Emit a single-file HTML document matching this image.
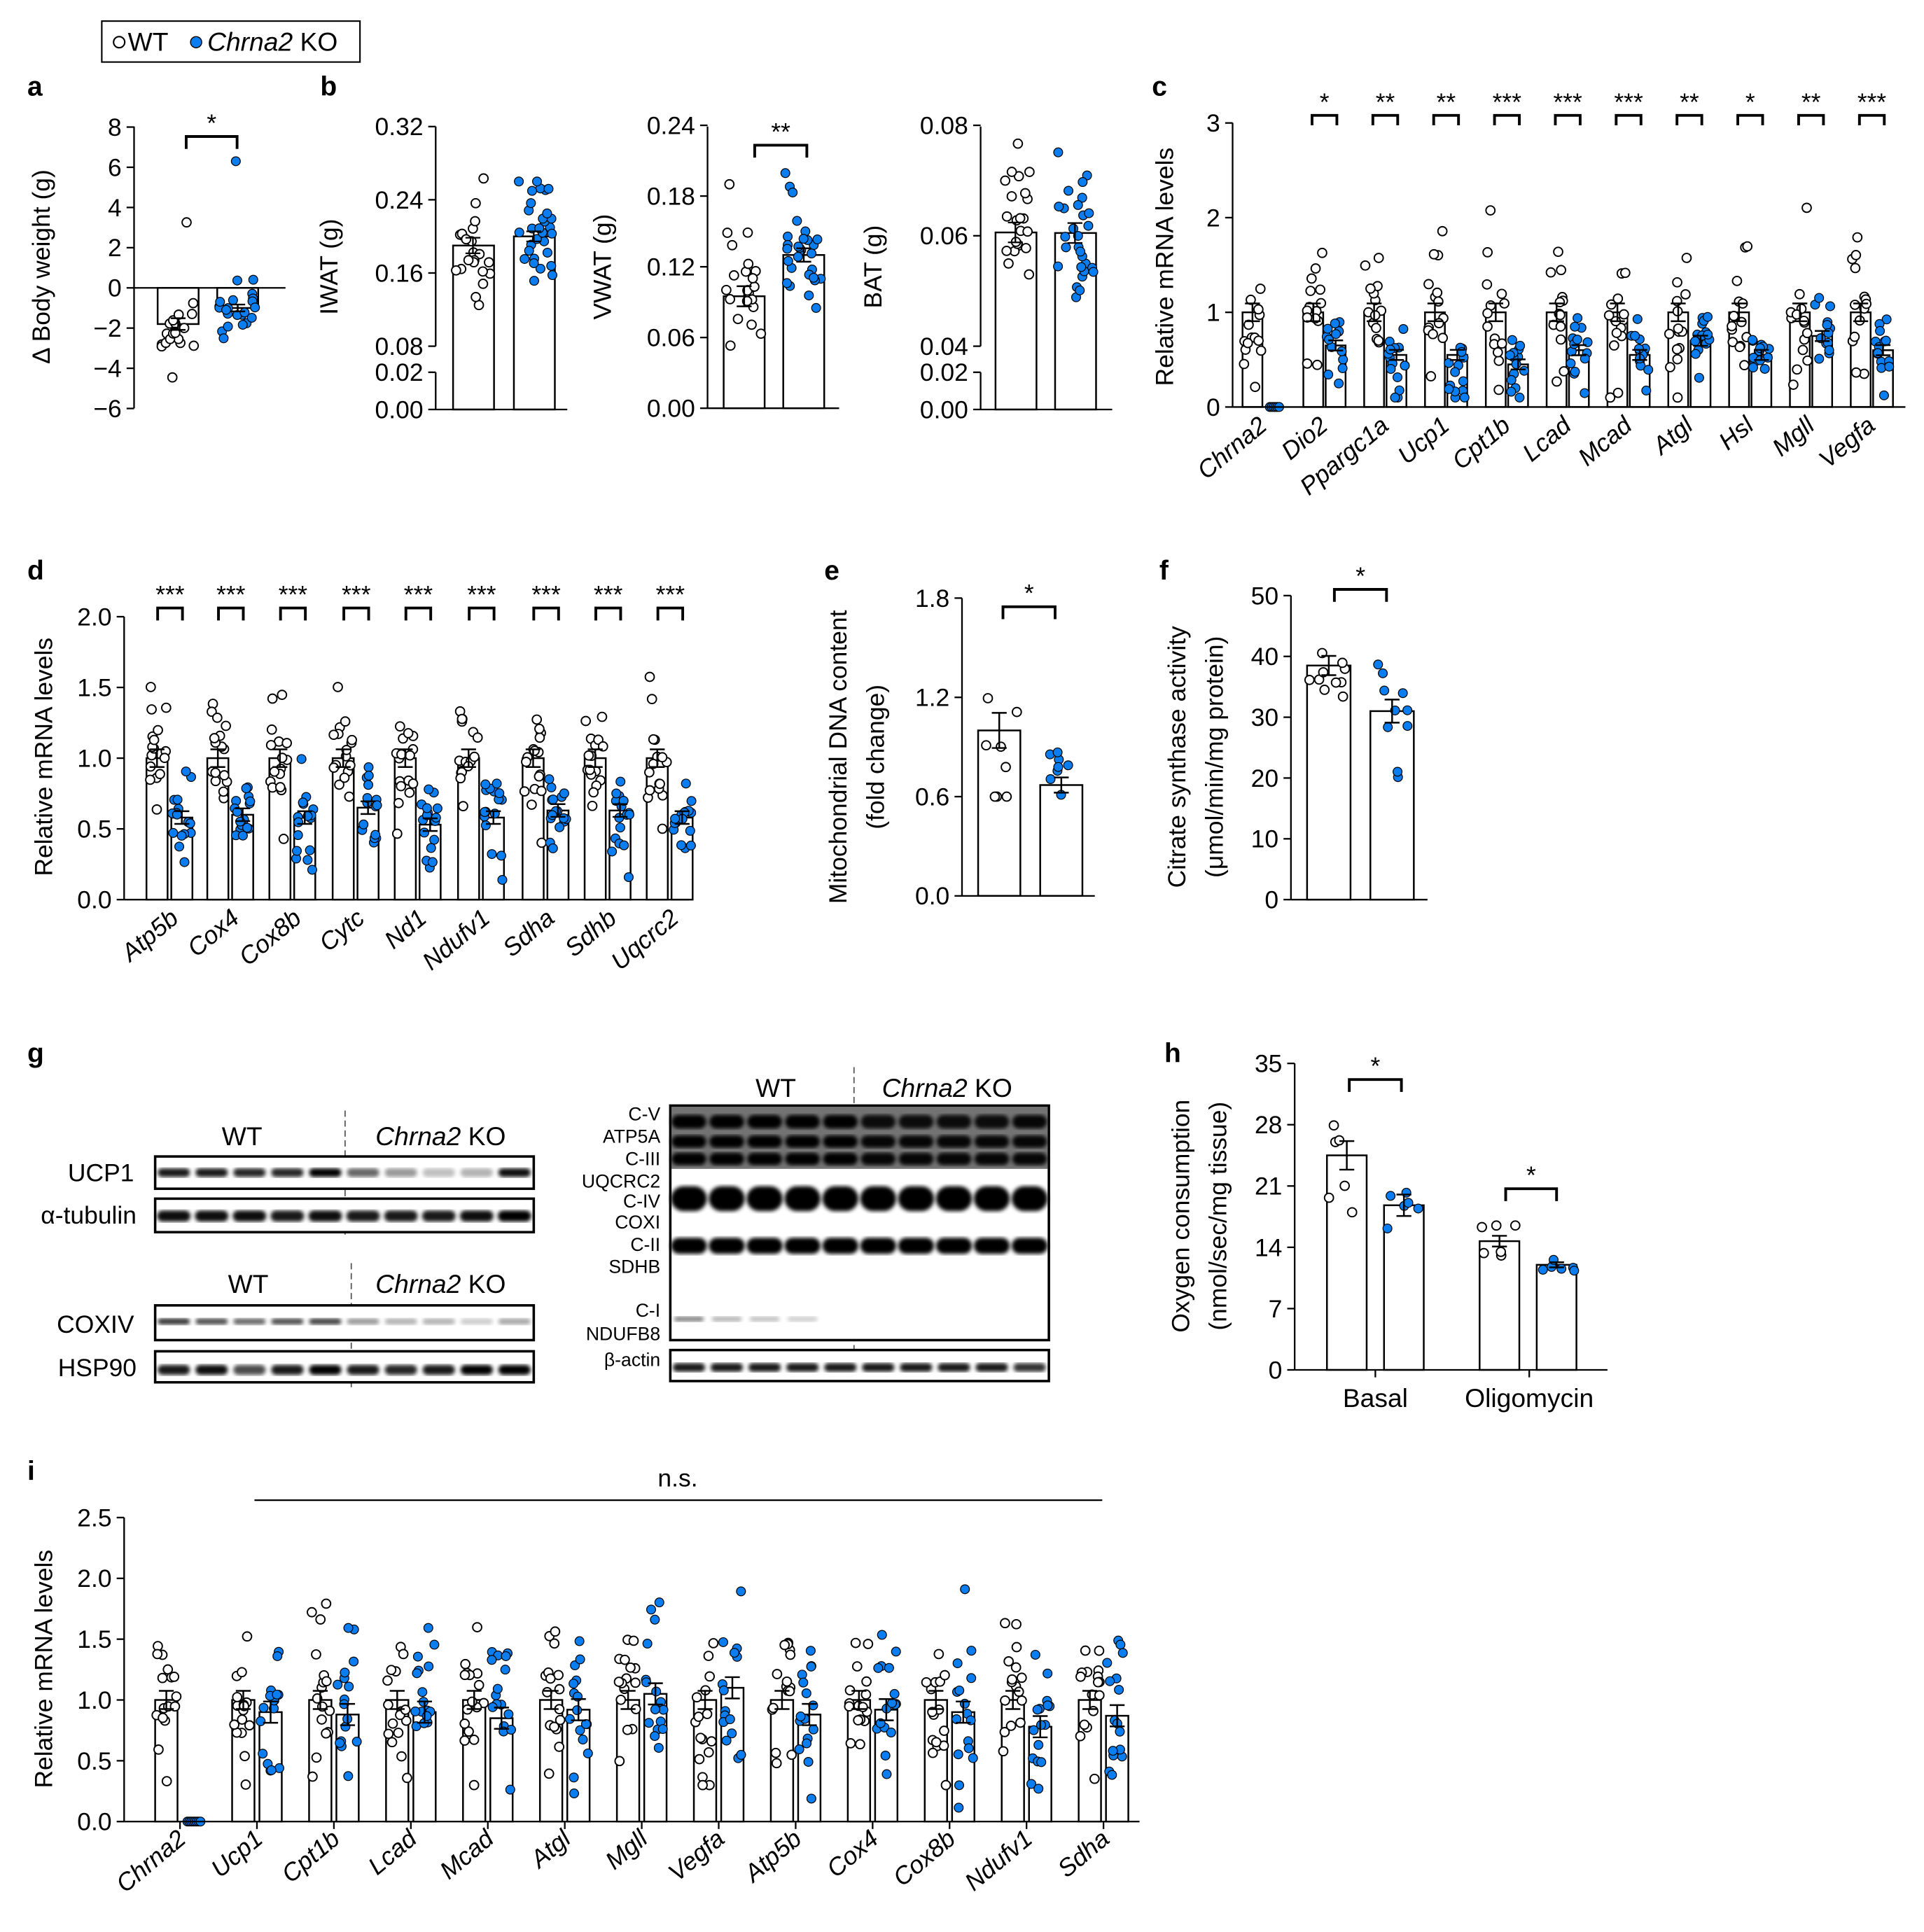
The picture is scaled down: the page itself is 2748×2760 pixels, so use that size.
<!DOCTYPE html>
<html><head><meta charset="utf-8"><style>
html,body{margin:0;padding:0;background:#fff}
svg{display:block}
text{font-family:"Liberation Sans",Arial,sans-serif;fill:#000}
</style></head><body>
<svg id="s" xmlns="http://www.w3.org/2000/svg" width="2748" height="2760" viewBox="0 0 1550 1557" preserveAspectRatio="none">
<defs><filter id="bl"><feGaussianBlur stdDeviation="1.6"/></filter></defs>
<rect width="1550" height="1557" fill="#fff"/>
<!-- legend -->
<rect x="82" y="17" width="208" height="33" fill="#fff" stroke="#000" stroke-width="1.2"/>
<circle cx="96" cy="34" r="4.5" fill="#fff" stroke="#000" stroke-width="1.2"/>
<text x="103" y="41" font-size="21">WT</text>
<circle cx="158" cy="34" r="4.5" fill="#0a7ef0" stroke="#000" stroke-width="0.8"/>
<text x="167" y="41" font-size="21"><tspan font-style="italic">Chrna2</tspan> KO</text>
<g font-weight="bold" font-size="22">
<text x="22" y="77">a</text><text x="258" y="77">b</text><text x="928" y="77">c</text>
<text x="22" y="467">d</text><text x="664" y="467">e</text><text x="934" y="467">f</text>
<text x="22" y="856">g</text><text x="938" y="856">h</text><text x="22" y="1193">i</text>
</g>
<g id="g"></g>
</svg>
<script>
const G=document.getElementById('g');const NS='http://www.w3.org/2000/svg';
function el(t,a,txt){const e=document.createElementNS(NS,t);for(const k in a)e.setAttribute(k,a[k]);if(txt!==undefined)e.textContent=txt;G.appendChild(e);return e;}
function line(x1,y1,x2,y2,w){el('line',{x1,y1,x2,y2,stroke:'#000','stroke-width':w||1.3});}
let seed=7;function rnd(){seed=(seed*16807)%2147483647;return seed/2147483647;}
function nrm(){let u=rnd()||1e-6,v=rnd();return Math.sqrt(-2*Math.log(u))*Math.cos(2*Math.PI*v);}
const BLUE='#0a7ef0';
function yaxis(x,ticks,map,y1,y2,fs){line(x,y1,x,y2);for(const [v,l] of ticks){const y=map(v);line(x-6,y,x,y);el('text',{x:x-10,y:y+7,'font-size':fs||20,'text-anchor':'end'},l);}}
function ylab(x,y,lines,fs){lines.forEach((s,i)=>{el('text',{x:x+i*30,y:y,'font-size':fs||20,'text-anchor':'middle',transform:`rotate(-90 ${x+i*30} ${y})`},s);});}
function grp(x,w,mean,sd,n,map,ko,base,minv,maxv,noBar){
  const y0=map(base),yt=map(mean);
  if(!noBar)el('rect',{x:Math.min(x,x),y:Math.min(yt,y0),width:w,height:Math.abs(y0-yt),fill:'#fff',stroke:'#000','stroke-width':1.4});
  const vals=[];for(let i=0;i<n;i++){let v=mean+sd*nrm();if(minv!==undefined)v=Math.max(minv,v);if(maxv!==undefined)v=Math.min(maxv,v);vals.push(v);}
  for(const v of vals){const cx=x+w/2+(rnd()-0.5)*w*0.9;el('circle',{cx,cy:map(v),r:3.6,fill:ko?BLUE:'#fff',stroke:'#000','stroke-width':ko?0.7:1.1});}
  if(!noBar){const se=sd/Math.sqrt(n);const e1=map(mean+se),e2=map(mean-se);line(x+w/2,e1,x+w/2,e2,1.4);line(x+w/2-6,e1,x+w/2+6,e1,1.4);line(x+w/2-6,e2,x+w/2+6,e2,1.4);}
}
function brk(x1,x2,y,star,h){h=h||10;el('path',{d:`M${x1} ${y+h}V${y}H${x2}V${y+h}`,fill:'none',stroke:'#000','stroke-width':2.2});el('text',{x:(x1+x2)/2,y:y-4,'font-size':20,'text-anchor':'middle'},star);}
function rlab(x,y,s,fs){el('text',{x,y,'font-size':fs||20,'font-style':'italic','text-anchor':'end',transform:`rotate(-40 ${x} ${y})`},s);}

// ---- a
{const m=v=>232-v*16.2;yaxis(108,[[8,'8'],[6,'6'],[4,'4'],[2,'2'],[0,'0'],[-2,'−2'],[-4,'−4'],[-6,'−6']],m,102,329);
ylab(40,215,['Δ Body weight (g)']);
grp(127,33,-1.8,1.3,20,m,false,0);grp(175,33,-1.0,0.8,22,m,true,0);el('circle',{cx:190,cy:m(6.3),r:3.6,fill:BLUE,stroke:'#000','stroke-width':0.7});
line(108,232,230,232);brk(150,191,110,'*');}
// ---- b IWAT
{const m=v=>v>=0.08?279-(v-0.08)/0.08*59:330-v/0.02*30;
line(351,102,351,279);line(351,300,351,330);
[[0.32,'0.32'],[0.24,'0.24'],[0.16,'0.16'],[0.08,'0.08'],[0.02,'0.02'],[0.00,'0.00']].forEach(([v,l])=>{const y=m(v);line(345,y,351,y);el('text',{x:341,y:y+7,'font-size':20,'text-anchor':'end'},l);});
ylab(272,215,['IWAT (g)']);
el('rect',{x:365,y:m(0.19),width:33,height:330-m(0.19),fill:'#fff',stroke:'#000','stroke-width':1.4});
el('rect',{x:414,y:m(0.2),width:33,height:330-m(0.2),fill:'#fff',stroke:'#000','stroke-width':1.4});
grp(365,33,0.19,0.04,22,m,false,0.08,0.10,0.29,true);grp(414,33,0.2,0.03,30,m,true,0.08,0.13,0.26,true);
[[381,0.19,0.04,22],[430,0.2,0.03,30]].forEach(([c,mu,s,n])=>{const se=s/Math.sqrt(n);line(c,m(mu+se),c,m(mu-se));line(c-6,m(mu+se),c+6,m(mu+se));line(c-6,m(mu-se),c+6,m(mu-se));});
line(351,330,457,330);}
// ---- VWAT
{const m=v=>329-v/0.06*57;yaxis(570,[[0.24,'0.24'],[0.18,'0.18'],[0.12,'0.12'],[0.06,'0.06'],[0,'0.00']],m,102,329);
ylab(492,215,['VWAT (g)']);grp(583,33,0.095,0.04,22,m,false,0,0.01,0.19);grp(631,33,0.13,0.03,28,m,true,0,0.07,0.2);line(570,329,676,329);brk(608,650,117,'**');}
// ---- BAT
{const m=v=>v>=0.04?279-(v-0.04)/0.02*89:330-v/0.02*30;
line(790,102,790,279);line(790,300,790,330);
[[0.08,'0.08'],[0.06,'0.06'],[0.04,'0.04'],[0.02,'0.02'],[0,'0.00']].forEach(([v,l])=>{const y=m(v);line(784,y,790,y);el('text',{x:780,y:y+7,'font-size':20,'text-anchor':'end'},l);});
ylab(710,215,['BAT (g)']);
el('rect',{x:802,y:m(0.0606),width:33,height:330-m(0.0606),fill:'#fff',stroke:'#000','stroke-width':1.4});
el('rect',{x:850,y:m(0.0605),width:33,height:330-m(0.0605),fill:'#fff',stroke:'#000','stroke-width':1.4});
grp(802,33,0.0606,0.009,22,m,false,0.04,0.045,0.077,true);grp(850,33,0.0605,0.008,28,m,true,0.04,0.045,0.078,true);
[[818,0.0606],[866,0.0605]].forEach(([c,mu])=>{const se=0.0018;line(c,m(mu+se),c,m(mu-se));line(c-6,m(mu+se),c+6,m(mu+se));line(c-6,m(mu-se),c+6,m(mu-se));});
line(790,330,896,330);}
// ---- c
{const m=v=>328-v*76.3;yaxis(993,[[3,'3'],[2,'2'],[1,'1'],[0,'0']],m,99,328);ylab(945,215,['Relative mRNA levels']);
const names=['Chrna2','Dio2','Ppargc1a','Ucp1','Cpt1b','Lcad','Mcad','Atgl','Hsl','Mgll','Vegfa'];
const ko=[0,0.65,0.55,0.55,0.45,0.6,0.55,0.7,0.55,0.75,0.6];const st=['','*','**','**','***','***','***','**','*','**','***'];
names.forEach((n,i)=>{const c=1018+i*49;grp(c-17,16,1,0.35,14,m,false,0,0.1,2.8);
if(i==0){for(let k=0;k<6;k++)el('circle',{cx:c+5+k*1.5,cy:m(0),r:3.6,fill:BLUE,stroke:'#000','stroke-width':0.7});}
else grp(c+1,16,ko[i],0.2,14,m,true,0,0.1,1.3);
if(st[i])brk(c-10,c+10,93,st[i],8);rlab(c+4,345,n);});
line(993,328,1535,328);}
// ---- d
{const m=v=>725-v*114;yaxis(100,[[2,'2.0'],[1.5,'1.5'],[1,'1.0'],[0.5,'0.5'],[0,'0.0']],m,497,725);ylab(42,610,['Relative mRNA levels']);
const names=['Atp5b','Cox4','Cox8b','Cytc','Nd1','Ndufv1','Sdha','Sdhb','Uqcrc2'];const c0=[137,186,236,287,337,388,440,490,540];
const ko=[0.58,0.6,0.58,0.65,0.53,0.58,0.63,0.63,0.58];
names.forEach((n,i)=>{const c=c0[i];grp(c-19,17,1,0.25,16,m,false,0,0.3,1.8);grp(c+1,17,ko[i],0.18,16,m,true,0,0.02,1.0);brk(c-10,c+10,490,'***',10);rlab(c+8,742,n);});
line(100,725,555,725);}
// ---- e
{const m=v=>722-v/0.6*80;yaxis(775,[[1.8,'1.8'],[1.2,'1.2'],[0.6,'0.6'],[0,'0.0']],m,482,722);ylab(682,610,['Mitochondrial DNA content','(fold change)']);
grp(788,34,1.0,0.3,8,m,false,0,0.6,1.6);grp(838,34,0.67,0.13,8,m,true,0,0.45,0.9);line(775,722,882,722);brk(808,850,489,'*');}
// ---- f
{const m=v=>725-v*4.9;yaxis(1040,[[50,'50'],[40,'40'],[30,'30'],[20,'20'],[10,'10'],[0,'0']],m,480,725);ylab(955,610,['Citrate synthase activity','(μmol/min/mg protein)']);
grp(1053,35,38.5,5,10,m,false,0,29,47);grp(1104,35,31,6,10,m,true,0,20,40);line(1040,725,1150,725);brk(1075,1117,475,'*');}
// ---- h
{const m=v=>1104-v/7*49.4;yaxis(1043,[[35,'35'],[28,'28'],[21,'21'],[14,'14'],[7,'7'],[0,'0']],m,857,1104);ylab(958,980,['Oxygen consumption','(nmol/sec/mg tissue)']);
grp(1069,32,24.5,4,6,m,false,0,18,30);grp(1115,32,18.8,3,6,m,true,0,13,24);grp(1192,32,14.7,1.5,6,m,false,0,12,17);grp(1238,32,12,0.7,6,m,true,0,10.5,13);
line(1043,1104,1295,1104);line(1108,1104,1108,1110);line(1232,1104,1232,1110);
el('text',{x:1108,y:1134,'font-size':21,'text-anchor':'middle'},'Basal');el('text',{x:1232,y:1134,'font-size':21,'text-anchor':'middle'},'Oligomycin');
brk(1087,1129,870,'*');brk(1213,1254,958,'*');}
// ---- i
{const m=v=>1468-v*98;yaxis(100,[[2.5,'2.5'],[2,'2.0'],[1.5,'1.5'],[1,'1.0'],[0.5,'0.5'],[0,'0.0']],m,1223,1468);ylab(42,1345,['Relative mRNA levels']);
const names=['Chrna2','Ucp1','Cpt1b','Lcad','Mcad','Atgl','Mgll','Vegfa','Atp5b','Cox4','Cox8b','Ndufv1','Sdha'];
const ko=[0,0.9,0.88,0.9,0.85,0.92,1.05,1.1,0.88,0.92,0.9,0.78,0.87];
names.forEach((n,i)=>{const c=145+i*62;grp(c-20,18,1,0.3,16,m,false,0,0.3,2.0);
if(i==0){for(let k=0;k<8;k++)el('circle',{cx:c+6+k*1.5,cy:m(0),r:3.6,fill:BLUE,stroke:'#000','stroke-width':0.7});}
else grp(c+2,18,ko[i],0.35,16,m,true,0,0.1,2.1);
line(c,1468,c,1474);rlab(c+6,1484,n);});
line(100,1468,918,1468);line(205,1209,888,1209);el('text',{x:546,y:1198,'font-size':20,'text-anchor':'middle'},'n.s.');}

// ---- blots
function box(x,y,w,h){el('rect',{x,y,width:w,height:h,fill:'#fff',stroke:'#000','stroke-width':2});}
function bands(x0,step,y,h,ints,wd){ints.forEach((a,i)=>{if(a>0)el('rect',{x:x0+i*step-wd/2,y:y-h/2,width:wd,height:h,rx:h/2,fill:'#000','fill-opacity':a,filter:'url(#bl)'});});}
function lab(x,y,s,fs,anc){el('text',{x,y,'font-size':fs||20,'text-anchor':anc||'end'},s);}
function dash(x,y1,y2){el('line',{x1:x,y1,x2:x,y2,stroke:'#555','stroke-width':1,'stroke-dasharray':'5 3'});}
function hdr(x1,x2,y){el('text',{x:x1,y,'font-size':21,'text-anchor':'middle'},'WT');el('text',{x:x2,y,'font-size':21,'text-anchor':'middle'}).innerHTML='<tspan font-style="italic">Chrna2</tspan> KO';}
hdr(195,355,923);dash(278,895,995);
box(125,932,305,26);bands(140,30.5,945,7,[0.9,0.9,0.85,0.85,1,0.6,0.4,0.25,0.3,0.95],26);
box(125,966,305,27);bands(140,30.5,980,9,[0.95,0.95,0.95,0.9,0.95,0.9,0.9,0.9,0.95,1],27);
lab(108,952,'UCP1');lab(110,986,'α-tubulin');
hdr(200,355,1042);dash(283,1018,1118);
box(125,1052,305,28);bands(140,30.5,1065,5,[0.8,0.7,0.6,0.7,0.75,0.4,0.3,0.3,0.2,0.35],26);
box(125,1089,305,25);bands(140,30.5,1104,8,[0.9,0.95,0.7,0.9,1,0.9,0.85,0.9,1,1],26);
lab(108,1074,'COXIV');lab(110,1109,'HSP90');
hdr(625,763,884);dash(688,860,1115);
box(540,891,305,189);
el('rect',{x:541,y:892,width:303,height:50,fill:'#000','fill-opacity':0.55});
bands(555,30.5,904,11,[1,1,1,1,1,0.9,0.9,0.9,0.9,0.95],28);
bands(555,30.5,920,10,[1,1,1,1,1,0.95,0.95,0.95,0.95,0.95],28);
bands(555,30.5,934,10,[1,1,1,1,1,0.95,0.95,0.95,0.95,0.95],28);
bands(555,30.5,966,20,[1,1,1,1,1,1,1,1,1,1],29);
bands(555,30.5,1004,13,[1,1,1,1,1,1,1,1,1,1],29);
bands(555,30.5,1063,4,[0.5,0.3,0.25,0.2,0,0,0,0,0,0],24);
box(540,1088,305,25);bands(555,30.5,1102,7,[0.9,0.9,0.9,0.9,0.9,0.9,0.9,0.9,0.9,0.8],26);
[['C-V',903],['ATP5A',921],['C-III',939],['UQCRC2',957],['C-IV',973],['COXI',990],['C-II',1008],['SDHB',1026],['C-I',1061],['NDUFB8',1080],['β-actin',1101]].forEach(([s,y])=>lab(532,y,s,15));
</script>
</body></html>
